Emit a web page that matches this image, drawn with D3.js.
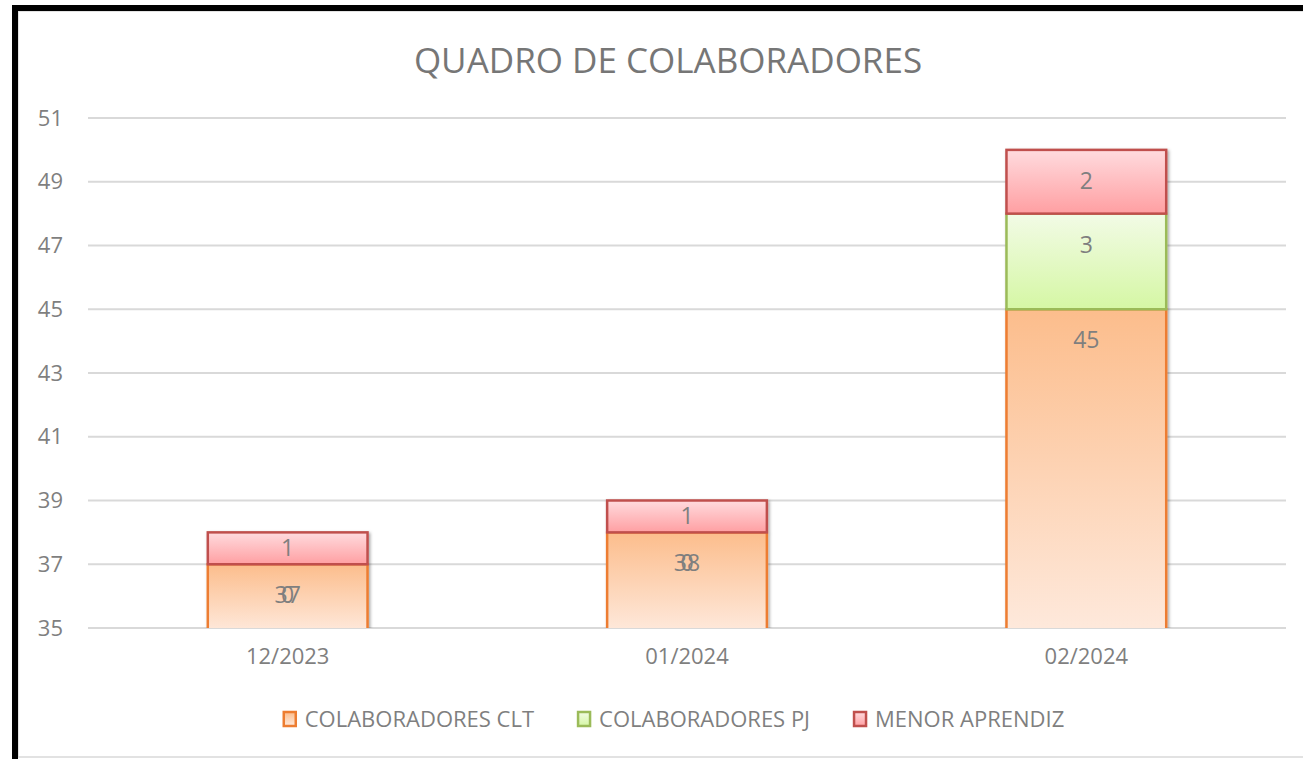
<!DOCTYPE html>
<meta charset="utf-8">
<script src="https://d3js.org/d3.v7.min.js"></script>
<style>
body { margin: 0; background: #fff; }
text { font-family: "Open Sans", sans-serif; fill: #7f7f7f; }
</style>
<div id="chart"></div>
<script>
// data
var months = ["12/2023", "01/2024", "02/2024"];
var seriesNames = ["COLABORADORES CLT", "COLABORADORES PJ", "MENOR APRENDIZ"];
var clt = [37, 38, 45];
var pj = [0, 0, 3];
var menor = [1, 1, 2];
var yTicks = [35, 37, 39, 41, 43, 45, 47, 49, 51];

var W = 1303, H = 759;
var margin = {top: 118, right: 17, bottom: 131, left: 88};
var width = W - margin.left - margin.right,
    height = H - margin.top - margin.bottom;

var colors = {
  "COLABORADORES CLT": {stroke: "#ed7d31", top: "#fcbd8c", bottom: "#fee9dc"},
  "COLABORADORES PJ": {stroke: "#9bbb59", top: "#f2fbe6", bottom: "#d5f7a4"},
  "MENOR APRENDIZ": {stroke: "#c0504d", top: "#ffdbde", bottom: "#ff9fa2"}
};

var svg = d3.select("#chart").append("svg")
  .attr("width", W).attr("height", H);

var defs = svg.append("defs");
seriesNames.forEach(function(s, i) {
  var g = defs.append("linearGradient")
    .attr("id", "grad" + i)
    .attr("x1", 0).attr("y1", 0).attr("x2", 0).attr("y2", 1);
  g.append("stop").attr("offset", "0%").attr("stop-color", colors[s].top);
  g.append("stop").attr("offset", "100%").attr("stop-color", colors[s].bottom);
});
var shadow = defs.append("filter").attr("id", "shadow")
  .attr("x", "-10%").attr("y", "-10%").attr("width", "130%").attr("height", "130%");
shadow.append("feDropShadow")
  .attr("dx", 1.5).attr("dy", 1.5).attr("stdDeviation", 1.5)
  .attr("flood-color", "#000").attr("flood-opacity", 0.35);
defs.append("clipPath").attr("id", "plotclip")
  .append("rect").attr("x", -10).attr("y", -20).attr("width", width + 20).attr("height", height + 20);

// frame
svg.append("rect")
  .attr("x", 18).attr("y", 11).attr("width", W).attr("height", H - 13)
  .attr("fill", "none").attr("stroke", "#d9d9d9").attr("stroke-width", 1.5);
svg.append("rect")
  .attr("x", 15).attr("y", 8).attr("width", W + 20).attr("height", H + 20)
  .attr("fill", "none").attr("stroke", "#000").attr("stroke-width", 6);

// title
svg.append("text")
  .attr("x", 668).attr("y", 73)
  .attr("text-anchor", "middle")
  .style("font-size", "35px")
  .style("fill", "#767676")
  .text("QUADRO DE COLABORADORES");

var g = svg.append("g")
  .attr("transform", "translate(" + margin.left + "," + margin.top + ")");

var x = d3.scaleBand().domain(months).range([0, width]).padding(0);
var barW = x.bandwidth() * 0.4;
var y = d3.scaleLinear().domain([35, 51]).range([height, 0]);

// gridlines
g.append("g")
  .selectAll("line")
  .data(yTicks)
  .join("line")
    .attr("x1", 0).attr("x2", width)
    .attr("y1", function(d) { return y(d); })
    .attr("y2", function(d) { return y(d); })
    .attr("stroke", "#d9d9d9").attr("stroke-width", 2);

// y axis labels
var yAxis = g.append("g")
  .call(d3.axisLeft(y).tickValues(yTicks).tickSize(0).tickPadding(25));
yAxis.select(".domain").remove();
yAxis.selectAll("text").style("font-size", "22px").style("fill", "#7f7f7f")
  .style("font-family", "Open Sans, sans-serif");

// x axis labels
var xAxis = g.append("g")
  .attr("transform", "translate(0," + height + ")")
  .call(d3.axisBottom(x).tickSize(0).tickPadding(20));
xAxis.select(".domain").remove();
xAxis.selectAll("text").style("font-size", "22px").style("fill", "#7f7f7f")
  .style("font-family", "Open Sans, sans-serif");

// stacked data
var table = months.map(function(m, i) {
  var row = {month: m};
  row[seriesNames[0]] = clt[i];
  row[seriesNames[1]] = pj[i];
  row[seriesNames[2]] = menor[i];
  return row;
});
var stacked = d3.stack().keys(seriesNames)(table);

var bars = g.append("g").attr("clip-path", "url(#plotclip)")
  .append("g").attr("filter", "url(#shadow)");

stacked.forEach(function(layer, si) {
  var key = layer.key;
  bars.append("g")
    .selectAll("rect")
    .data(layer.filter(function(d) { return d[1] > d[0]; }))
    .join("rect")
      .attr("x", function(d) { return x(d.data.month) + (x.bandwidth() - barW) / 2; })
      .attr("y", function(d) { return y(d[1]); })
      .attr("width", barW)
      .attr("height", function(d) {
        var b = Math.max(d[0], 35);
        var extra = d[0] < 35 ? 4 : 0;
        return y(b) - y(d[1]) + extra;
      })
      .attr("fill", "url(#grad" + si + ")")
      .attr("stroke", colors[key].stroke)
      .attr("stroke-width", 2.5);
});

// data labels
function labelY(d) {
  var top = y(d[1]);
  var h = y(Math.max(d[0], 35)) - top;
  return top + Math.min(h / 2, 31);
}
stacked.forEach(function(layer, si) {
  g.append("g")
    .selectAll("text")
    .data(layer)
    .join("text")
      .attr("x", function(d) { return x(d.data.month) + x.bandwidth() / 2; })
      .attr("y", function(d, i) {
        // zero-height segments sit on the label of the segment below
        if (d[1] === d[0] && si > 0) return labelY(stacked[si - 1][i]);
        return labelY(d);
      })
      .attr("dy", "0.35em")
      .attr("text-anchor", "middle")
      .style("font-size", "23px")
      .text(function(d) { return d[1] - d[0]; });
});

// legend
var legend = svg.append("g").attr("transform", "translate(0,719)");
var items = legend.selectAll("g")
  .data(seriesNames)
  .join("g");
items.append("rect")
  .attr("x", 0).attr("y", -7).attr("width", 12).attr("height", 14)
  .attr("fill", function(d, i) { return "url(#grad" + i + ")"; })
  .attr("stroke", function(d) { return colors[d].stroke; })
  .attr("stroke-width", 2.5);
items.append("text")
  .attr("x", 21).attr("dy", "0.35em")
  .style("font-size", "22px")
  .text(function(d) { return d; });
var offsets = [], pos = 0;
items.each(function() {
  offsets.push(pos);
  pos += this.getBBox().width + 44;
});
var total = pos - 44;
var start = 674 - total / 2;
items.attr("transform", function(d, i) { return "translate(" + (start + offsets[i]) + ",0)"; });
</script>
